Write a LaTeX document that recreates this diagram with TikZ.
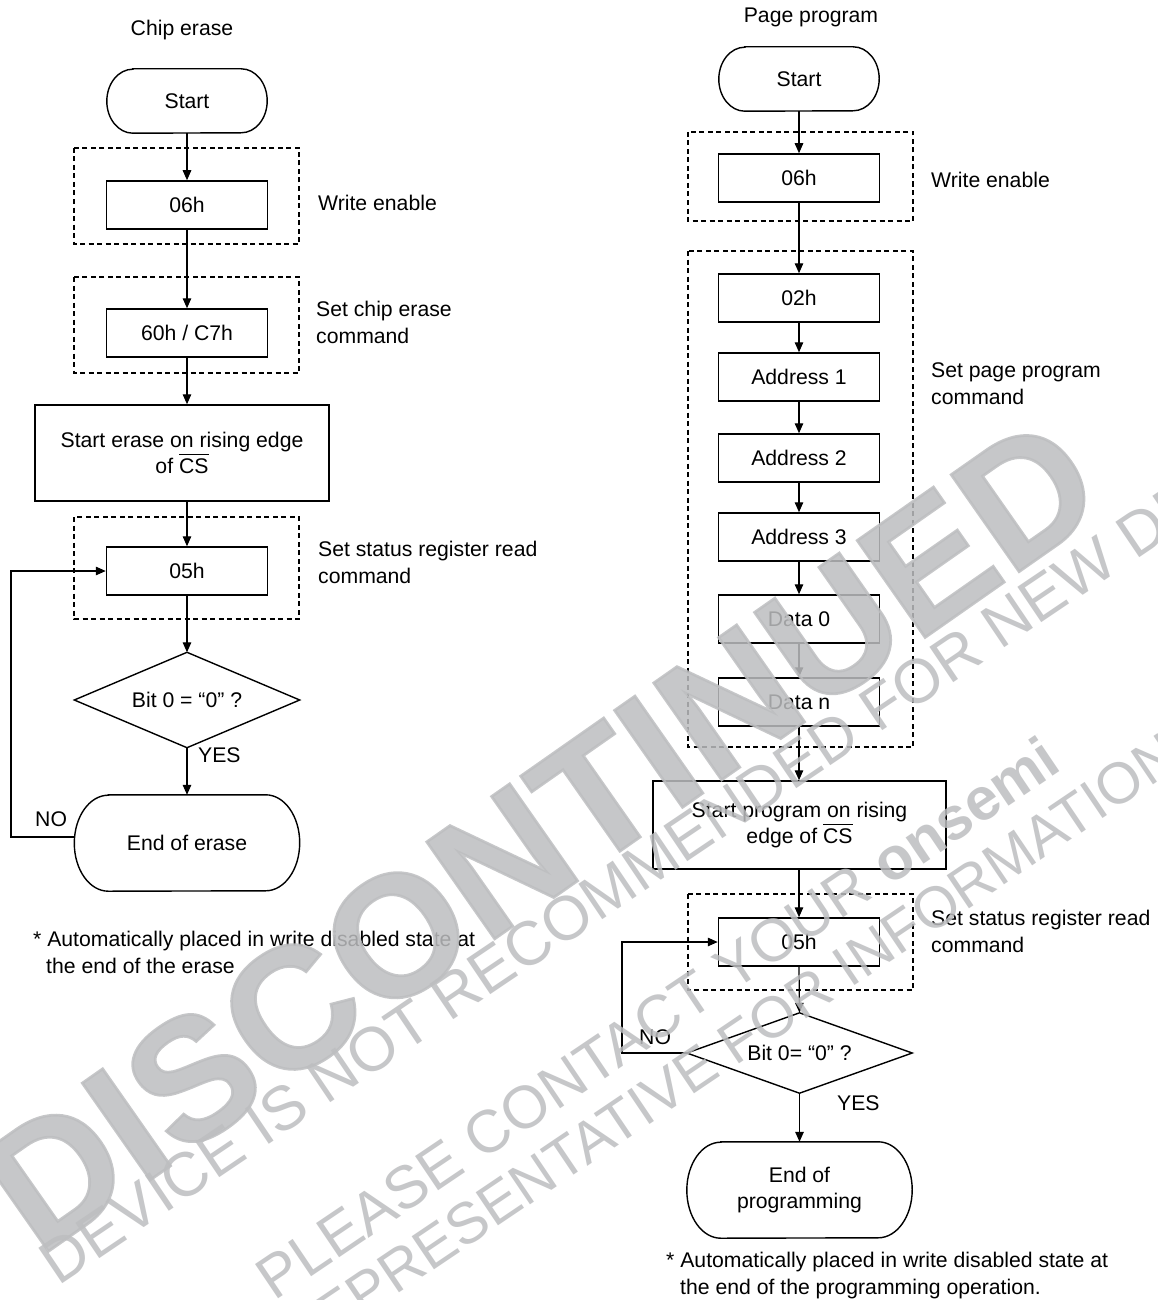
\documentclass[tikz,border=0pt]{standalone}
\usepackage{fontspec}
\setmainfont{Liberation Sans}
\newfontfamily\wmbold{Liberation Sans Bold}[FakeBold=1.6]
\usetikzlibrary{arrows.meta,calc}
\definecolor{wm}{RGB}{189,190,192}
\newcommand{\ovl}[1]{$\overline{\hbox{\rule{0pt}{17.5pt}#1}}$}
\newcommand{\termshape}[3]{%
  \draw[shapeline] ([xshift=#2pt]#1.north west) -- ([xshift=-#2pt]#1.north east)
    arc[start angle=90,end angle=-90,x radius=#2pt,y radius=#3pt]
    -- ([xshift=#2pt]#1.south west)
    arc[start angle=270,end angle=90,x radius=#2pt,y radius=#3pt] -- cycle;}
\newcommand{\diamondshape}[1]{%
  \draw[shapeline] (#1.north) -- (#1.east) -- (#1.south) -- (#1.west) -- cycle;}
\begin{document}
\begin{tikzpicture}[x=1pt,y=-1pt,
  every node/.style={font=\fontsize{21.2}{26}\selectfont},
  shapeline/.style={line width=1.4pt,line join=miter},
  arr/.style={line width=1.3pt,-{Triangle[length=10pt,width=8.5pt]}},
  capht/.style={text height=15.2pt,text depth=0pt},
  box/.style={draw,line width=1.5pt,rectangle,minimum width=161pt,minimum height=48pt,inner sep=0pt,capht},
  bigbox/.style={draw,line width=1.5pt,rectangle,inner sep=0pt,align=center},
  ghost/.style={rectangle,inner sep=0pt,align=center},
  grp/.style={line width=1.2pt,dash pattern=on 5pt off 3.5pt},
  lbl/.style={anchor=west,inner sep=0pt,capht},
  ttl/.style={inner sep=0pt,capht},
  wmtext/.style={text=wm,inner sep=0pt,opacity=0.85,text opacity=0.85}
]
\useasboundingbox[fill=white] (0,0) rectangle (1158,1300);

% ---------------- Chip erase ----------------
\node[ttl] (t1) at (182,28) {Chip erase};
\node[ghost,capht,minimum width=160pt,minimum height=64pt] (s1) at (187,101) {Start};
\termshape{s1}{26}{32}
\draw[grp] (74,148) rectangle (299,244);
\node[box] (b1) at (187,205) {06h};
\node[lbl] (lw1) at (318,203) {Write enable};
\draw[grp] (74,277) rectangle (299,373);
\node[box] (b2) at (187,333) {60h / C7h};
\node[lbl] (lc1) at (316,309) {Set chip erase};
\node[lbl] (lc2) at (316,336) {command};
\node[bigbox,minimum width=294pt,minimum height=96pt] (b3) at (182,453)
  {Start erase on rising edge\\of \ovl{CS}};
\draw[grp] (74,517) rectangle (299,619);
\node[box] (b4) at (187,571) {05h};
\node[lbl] (ls1) at (318,549) {Set status register read};
\node[lbl] (ls2) at (318,576) {command};
\node[ghost,capht,minimum width=225pt,minimum height=95pt] (d1) at (187,700) {Bit 0 = “0” ?};
\diamondshape{d1}
\node[lbl] (y1) at (198,755) {YES};
\node[ghost,capht,minimum width=225pt,minimum height=96pt] (e1) at (187,843) {End of erase};
\termshape{e1}{34}{48}
\node[lbl] (n1) at (35,819) {NO};
\node[lbl] (f1a) at (33,939) {* Automatically placed in write disabled state at};
\node[lbl] (f1b) at (46,966) {the end of the erase};
\coordinate (lp1) at (11,837);

\draw[arr] (s1.south) -- (b1.north);
\draw[arr] (b1.south) -- (b2.north);
\draw[arr] (b2.south) -- (b2.south |- b3.north);
\draw[arr] (b4.north |- b3.south) -- (b4.north);
\draw[arr] (b4.south) -- (d1.north);
\draw[arr] (d1.south) -- (e1.north);
\draw[arr] ([yshift=6pt]e1.west) -- (lp1) |- (b4.west);

% ---------------- Page program ----------------
\node[ttl] (t2) at (811,15) {Page program};
\node[ghost,capht,minimum width=160pt,minimum height=64pt] (s2) at (799,79) {Start};
\termshape{s2}{26}{32}
\draw[grp] (688,132) rectangle (913,221);
\node[box] (c1) at (799,178) {06h};
\node[lbl] (lw2) at (931,180) {Write enable};
\draw[grp] (688,251) rectangle (913,747);
\node[box] (c2) at (799,298) {02h};
\node[box] (c3) at (799,377) {Address 1};
\node[lbl] (lp2a) at (931,370) {Set page program};
\node[lbl] (lp2b) at (931,397) {command};
\node[box] (c4) at (799,458) {Address 2};
\node[box] (c5) at (799,537) {Address 3};
\node[box] (c6) at (799,619) {Data 0};
\node[box] (c7) at (799,702) {Data n};
\node[bigbox,minimum width=293pt,minimum height=88pt] (c8) at (799.5,825)
  {Start program on rising\\edge of \ovl{CS}};
\draw[grp] (688,894) rectangle (913,990);
\node[box] (c9) at (799,942) {05h};
\node[lbl] (ls3) at (931,918) {Set status register read};
\node[lbl] (ls4) at (931,945) {command};
\node[ghost,capht,minimum width=225pt,minimum height=80pt] (d2) at (799.5,1053) {Bit 0= “0” ?};
\diamondshape{d2}
\node[lbl] (n2) at (639,1037) {NO};
\node[lbl] (y2) at (837,1103) {YES};
\node[ghost,minimum width=225pt,minimum height=96pt] (e2) at (799.5,1190) {End of\\programming};
\termshape{e2}{34}{48}
\node[lbl] (f2a) at (666,1260) {* Automatically placed in write disabled state at};
\node[lbl] (f2b) at (680,1287) {the end of the programming operation.};
\coordinate (lp2) at (622,1053);

\draw[arr] (s2.south) -- (c1.north);
\draw[arr] (c1.south) -- (c2.north);
\draw[arr] (c2.south) -- (c3.north);
\draw[arr] (c3.south) -- (c4.north);
\draw[arr] (c4.south) -- (c5.north);
\draw[arr] (c5.south) -- (c6.north);
\draw[arr] (c6.south) -- (c7.north);
\draw[arr] (c7.south) -- (c7.south |- c8.north);
\draw[arr] (c9.north |- c8.south) -- (c9.north);
\draw[arr] (c9.south) -- (d2.north);
\draw[arr] (d2.south) -- (e2.north);
\draw[arr] (d2.west) -- (lp2) |- (c9.west);

% ---------------- watermark ----------------
\node[wmtext,text height=123pt,text depth=0pt,rotate=35,
  font=\fontsize{172}{172}\selectfont\wmbold] (wm0) at (540,832) {DISCONTINUED};
\node[wmtext,anchor=west,text height=44pt,text depth=0pt,rotate=34,
  font=\fontsize{62}{62}\selectfont] (wm1) at (46,1268) {DEVICE IS NOT RECOMMENDED FOR NEW DESIGN};
\node[wmtext,anchor=west,text height=43pt,text depth=0pt,rotate=34,
  font=\fontsize{60}{60}\selectfont] (wm2) at (262,1284) {PLEASE CONTACT YOUR \textbf{onsemi}};
\node[wmtext,anchor=west,text height=42pt,text depth=0pt,rotate=34,
  font=\fontsize{58}{58}\selectfont] (wm3) at (285,1345) {REPRESENTATIVE FOR INFORMATION};
\end{tikzpicture}
\end{document}
